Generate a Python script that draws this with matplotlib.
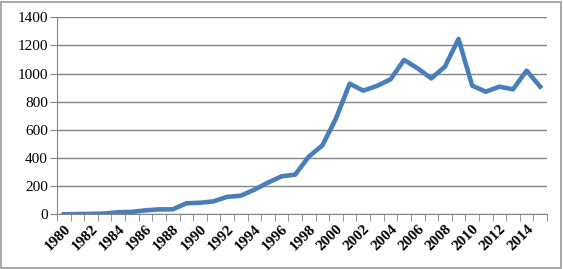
import matplotlib.pyplot as plt
import numpy as np

# annees et valeurs
annees = list(range(1980, 2016))
valeurs = [0, 2, 3, 5, 15, 17, 28, 35, 35, 78, 82, 92, 124, 132, 175, 225, 270, 282,
           410, 490, 682, 928, 879, 912, 959, 1097, 1037, 966, 1049, 1246,
           915, 871, 907, 888, 1021, 907]
yticks = [0, 200, 400, 600, 800, 1000, 1200, 1400]

plt.rcParams['font.family'] = ['Liberation Serif', 'DejaVu Serif']

fig = plt.figure(figsize=(5.63, 2.69), dpi=100)
ax = fig.add_axes([57 / 563, 1 - 214.3 / 269, 490 / 563, 197 / 269])

x = np.arange(len(annees))
ax.plot(x, valeurs, color='#4A7EBB', linewidth=3.3, solid_joinstyle='round')

ax.set_xlim(-0.5, len(annees) - 0.5)
ax.set_ylim(0, 1400)
ax.set_yticks(yticks)
ax.grid(axis='y', color='#868686', linewidth=1)
ax.set_axisbelow(True)

# etiquettes une annee sur deux, marques entre les categories
ax.set_xticks(x[::2])
ax.set_xticklabels([str(a) for a in annees[::2]], rotation=45, ha='right',
                   rotation_mode='anchor', fontsize=11, fontweight='bold')
ax.set_xticks(np.arange(-0.5, len(annees)), minor=True)
ax.tick_params(axis='x', which='major', length=0, pad=6)
ax.tick_params(axis='x', which='minor', length=5, color='#868686')
ax.tick_params(axis='y', length=5, color='#868686', labelsize=11, pad=1.5)

for s in ['top', 'right']:
    ax.spines[s].set_visible(False)
for s in ['left', 'bottom']:
    ax.spines[s].set_color('#868686')

# cadre autour du graphique
fig.patches.append(plt.Rectangle((0.002, 0.004), 0.995, 0.99, transform=fig.transFigure,
                                 fill=False, edgecolor='#9a9a9a', linewidth=1.2))

plt.savefig('out.png', dpi=100)
